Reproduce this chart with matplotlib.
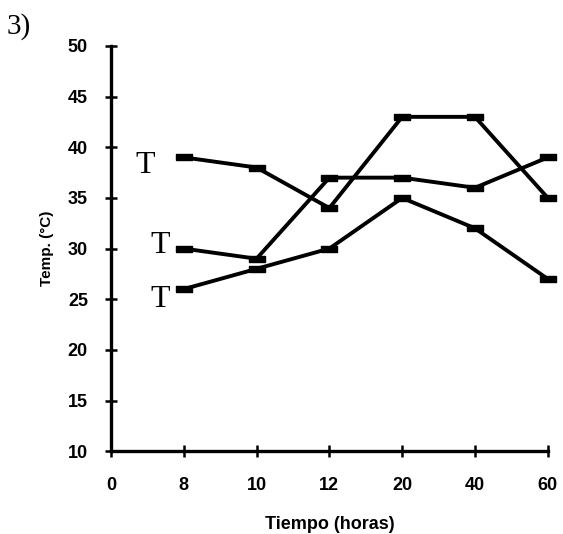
import matplotlib
matplotlib.use("Agg")
import matplotlib.pyplot as plt
import numpy as np

########## data ##########
horas = ["0", "8", "10", "12", "20", "40", "60"]
serie_a = [39, 38, 34, 43, 43, 35]   # starts at 8 h
serie_b = [30, 29, 37, 37, 36, 39]
serie_c = [26, 28, 30, 35, 32, 27]
y_ticks = [10, 15, 20, 25, 30, 35, 40, 45, 50]

# short flat bar used as marker
dash = [(-1.6, -0.55), (1.6, -0.55), (1.6, 0.55), (-1.6, 0.55), (-1.6, -0.55)]

fig = plt.figure(figsize=(5.63, 5.34), dpi=100)
ax = fig.add_axes([0.197, 0.155, 0.776, 0.759])

xpos = np.arange(1, len(horas))
for serie in [serie_a, serie_b, serie_c]:
    ax.plot(xpos, serie, color="black", linewidth=2.8, marker=dash,
            markersize=12, clip_on=False)

ax.set_xlim(0, len(horas) - 1)
ax.set_ylim(10, 50)
ax.set_xticks(np.arange(len(horas)))
ax.set_xticklabels(horas)
ax.set_yticks(y_ticks)

for s in ["top", "right"]:
    ax.spines[s].set_visible(False)
for s in ["left", "bottom"]:
    ax.spines[s].set_linewidth(2.4)

ax.tick_params(direction="inout", length=9, width=1.8, labelsize=13)
ax.tick_params(axis="y", pad=12)
ax.tick_params(axis="x", pad=14)
for lab in ax.get_xticklabels() + ax.get_yticklabels():
    lab.set_fontfamily("Liberation Sans")
    lab.set_fontweight("bold")

ax.set_xlabel("Tiempo (horas)", fontsize=13, fontweight="bold",
              fontfamily="Liberation Sans", labelpad=16)
ax.set_ylabel("Temp. (°C)", fontsize=11, fontweight="bold",
              fontfamily="Liberation Sans", labelpad=10)

# "T" labels next to the start of each line
for yy, xx in [(38.2, 0.47), (30.3, 0.67), (25.0, 0.67)]:
    ax.text(xx, yy, "T", fontsize=23, fontfamily="Liberation Serif",
            ha="center", va="center")

fig.text(0.012, 0.95, "3)", fontsize=21, fontfamily="Liberation Serif",
         ha="left", va="center")

plt.savefig("out.png", dpi=100)
